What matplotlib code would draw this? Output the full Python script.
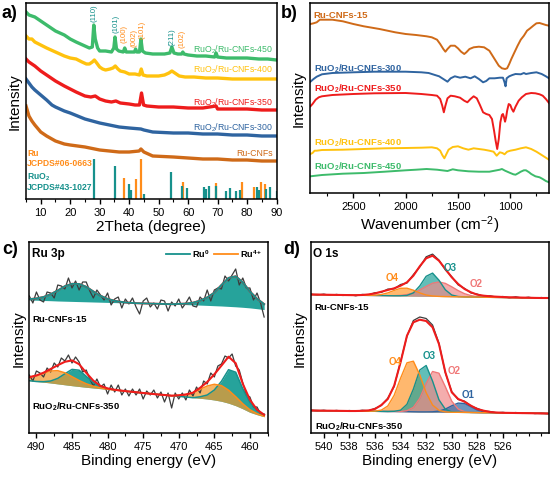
import numpy as np
import matplotlib
matplotlib.use("Agg")
import matplotlib.pyplot as plt
from matplotlib.lines import Line2D

plt.rcParams['font.family'] = ['Liberation Sans', 'DejaVu Sans']
plt.rcParams['mathtext.fontset'] = 'custom'
plt.rcParams['mathtext.rm'] = 'Liberation Sans'
plt.rcParams['mathtext.bf'] = 'Liberation Sans:bold'
plt.rcParams['mathtext.default'] = 'regular'

# ---------------- a) XRD ----------------
x450 = [5,6,8,10,12,15,18,20,22,25,26.5,27.5,28.0,28.5,29.3,30,32,34,34.8,35.2,35.7,36.5,38,38.5,39,40,41.8,42.2,42.6,43.5,
        44.0,44.5,45.5,48,50,52,53.8,54.5,55.2,56.5,57.8,58.2,58.6,60,63,66,69,69.5,70,73,76,80,84,87,90]
y450 = [187,184,182,178,174,168,164,160,157,153,151,152,174,160,151,148,148,147,151,162,150,148,147,151,147,147,147,150,147,147,
        160,148,146,145,145,145,146,152,146,145,145,147,145,144,143,143,142,146,142,141,141,141,140,140,139]
x400 = [5,6,7,8,10,12,15,18,20,22,24,25.5,26.5,27.5,28.2,29,30,31,32,33.5,34.5,35.3,36.2,37,38.5,40,42,43.5,44.1,44.7,
        46,48,50,52,53.5,54.5,55.5,57,59,62,66,70,75,80,85,90]
y400 = [163,160,160,157,154,151,147,143,141,140,137,135,135,137,139,136,132,130,129,130,131,133,130,128,127,125,125,124,130,124,
        123,123,123,124,126,128,126,123,122,122,121,121,120,120,120,120]
x350 = [5,6,7,8,10,12,15,18,20,22,25,27,28.5,30,32,34,35.5,37,40,42,43.5,44.2,44.9,46,50,55,60,65,69.5,70,75,80,85,90]
y350 = [140,137,135,133,128,124,118,113,110,107,103,102,103,100,98,97,98,96,95,94,94,106,94,93,92,92,91,91,93,90,90,90,89,89]
x300 = [5,6,7,8,10,12,13.8,15,18,20,25,30,36.6,40,44,45,48,55,60,65,70,75,80,85,90]
y300 = [120,116,112,109,104,99,94,92,88,86,80,76,72,71,70,69,67,66,66,65,65,64,64,63,63]
xru = [5,5.5,6,7,8,10,12,13.8,15,18,20,25,30,36.6,40,43.4,44,45,48,55,60,65,70,75,80,85,90]
yru = [93,88,83,78,74,67,63,60,58,55,54,52,49,47,47,48,50,47,43,42,41,40,40,39,39,38,38]

ruo2_pos = [28.0,35.1,40.0,40.6,45.0,54.3,57.9,59.5,65.5,66.2,67.0,69.6,73.0,74.1,76.1,77.6,83.3,84.0,86.5,87.8,90.0]
ruo2_h = [40,33,15,9,5,27,13,11,12,10,13,13,8,11,8,9,12,9,10,12,8]
ru_pos = [38.4,42.2,44.0,58.3,69.4,78.4,82.3,84.8,86.0]
ru_h = [21,20,40,17,16,17,12,17,15]

hkl_x = [28.1,35.4,38.4,41.7,44.4,54.4,58.0]
hkl_y = [178,167,157,153,161,154,152]
hkl_txt = ['(110)','(101)','(100)','(002)','(101)','(211)','(102)']
hkl_is_ru = [False,False,True,True,True,False,True]

# ---------------- b) FTIR ----------------
bx_15 = [2910,2880,2850,2820,2780,2700,2600,2500,2400,2250,2100,2000,1900,1800,1750,1700,1670,1640,1620,1600,1570,1530,1500,
         1470,1440,1420,1390,1350,1300,1250,1200,1170,1140,1110,1080,1050,1030,1010,990,960,930,900,870,840,810,780,750,720,690,660,630]
by_15 = [169,169.7,170.7,173.3,173.3,173.3,171.7,169,166.7,164,160.7,159,158,156.7,155.7,153.3,149,144,141.3,144,147.3,147.3,144.7,
         141.3,139,140.7,144,145.7,146.3,145.7,142.3,137.3,132.3,127.3,124.7,124,124.7,129,134,140.7,147.3,153.3,157.3,162.3,164.7,167.3,169.7,170,169,168,167.3]
bx_300 = [2910,2880,2850,2800,2700,2500,2300,2000,1850,1780,1720,1680,1640,1600,1570,1530,1480,1430,1380,1340,1300,1260,1230,1200,
          1150,1100,1070,1055,1045,1035,1010,980,950,900,870,850,800,750,700,660,630]
by_300 = [111.3,114,116.3,118.7,120,120.7,121.3,121.3,120.7,120,118,116.7,114,111.3,114.7,116.7,115.3,116.3,114.7,116.7,114,110.7,112,114.7,
          114.7,115.3,115.3,110.7,106.7,114.7,116.7,118,119,118.7,120,119,120,120.7,119,116.7,114.7]
bx_350 = [2910,2890,2860,2830,2800,2700,2500,2300,2000,1850,1750,1700,1670,1650,1635,1620,1600,1570,1530,1480,1440,1410,1380,1350,1320,
          1290,1260,1230,1200,1175,1155,1140,1125,1110,1095,1080,1070,1060,1050,1040,1030,1015,1000,985,970,950,920,890,850,800,760,720,690,660,630]
by_350 = [86.7,89,93.3,95.7,96.7,98,99,99.7,100,99,98,97.3,94,87.3,80.7,87.3,94.7,97.3,96.7,95.3,92.3,90.7,94,96.7,94.7,
          88,80.7,79,78,74,62.3,52.3,44,54,70.7,78,79,75.7,71.3,75.7,82.3,89,88,84,81.3,86.3,92.3,95.7,99,100,99.7,98.7,97.3,94,90]
bx_400 = [2910,2890,2870,2850,2800,2600,2400,2200,2000,1850,1750,1700,1670,1650,1630,1610,1590,1550,1500,1450,1400,1350,1300,1250,1200,
          1160,1130,1100,1075,1055,1030,1000,950,900,850,800,750,700,660,630]
by_400 = [39,40,42.3,42.3,43,43.3,44,44.7,45,45.3,45.7,44.7,42.3,38,34.7,39,43.3,46,46.7,44.7,43.3,44.7,44,43.3,42.3,
          41.3,37.3,40.7,40,38.7,41.3,42.3,43.3,44.7,45.7,44,41.3,38,35.3,33.3]
bx_450 = [2910,2800,2600,2400,2200,2000,1900,1800,1700,1600,1550,1500,1400,1300,1200,1150,1100,1080,1050,1000,970,950,920,900,870,850,820,800,760,720,690,660,630]
by_450 = [16.7,18,19.3,20,21.3,22.7,23.3,24,23.3,22,23.7,22.7,21.7,21.3,21.3,22.3,23.3,24,22.3,20,18.7,18.3,20,21.3,22.7,22.7,20.7,19,16.7,15.7,14,12,10.7]

# ---------------- c) Ru 3p XPS ----------------
c_x = np.arange(491, 457.5, -1.0)
c_xraw = np.arange(491, 457.75, -0.5)
c_bg_top = [133.0,132.8,132.5,132.3,132.0,131.8,131.6,131.4,131.2,131.0,130.8,130.6,130.4,130.2,130.0,129.8,129.6,129.4,129.2,129.0,
            128.8,128.6,128.4,128.1,127.9,127.6,127.3,127.0,126.6,126.2,125.7,125.1,124.3,123.4]
c_ru0_top = [0.8,1.8,3.5,6.5,10.5,15,17.6,17.6,15,10.5,6.5,3.5,1.8,0.8,0.3,0,0,0,0,0,0,
             0.5,1,2.2,4.5,8,13,21,28.5,30.5,25,16.5,10,5.5]
c_fit_top = [133.8,134.6,136.0,138.8,142.5,146.8,149.2,149.0,146.2,141.5,137.3,134.1,132.2,131.0,130.3,129.8,129.6,129.4,129.2,129.0,
             128.8,129.1,129.4,130.3,132.4,135.6,140.3,148.0,155.1,156.7,150.7,141.6,134.3,128.9]
c_raw_top = [137,130,141,133,131,141,140,135,148,147,144,155,145,152,143,151,151,142,135,143,138,133,140,128,134,136,125,134,129,135,
             126,119,132,135,126,130,124,133,132,122,131,127,134,125,130,136,127,126,136,132,143,132,143,145,144,157,152,158,164,148,
             155,145,145,133,140,130,116]
c_bg_bot = [52.3,51.5,50.8,50.0,49.1,48.2,47.3,46.5,45.7,45.0,44.3,43.6,43.0,42.3,41.5,40.8,40.0,39.3,38.6,38.0,
            37.3,36.7,36.0,35.3,34.7,34.0,33.0,31.7,29.8,27.3,24.2,20.7,18.3,16.3]
c_ru4_bot = [3.5,6,9,12,13.2,12,9,6,3.5,1.8,0.8,0.3,0,0,0,0,0,0,0,0,0,
             1,2.5,5,9,13,15.7,15.7,13,9,5,2.5,1,0.4]
c_ru0_bot = [0,0,0.5,2,5.5,11,16.3,16.3,11,5.5,2,0.7,0.2,0,0,0,0,0,0,0,0,0,0,0,
             1.5,4,10,20,33.5,33.5,20,10,4,1.5]
c_fit_bot = [55.8,57.5,60.3,64.0,67.8,71.2,72.6,68.8,60.2,52.3,47.1,44.6,43.2,42.3,41.5,40.8,40.0,39.3,38.6,38.0,
             37.3,37.7,38.5,40.3,45.2,51.0,58.7,67.4,76.3,69.8,49.2,33.2,23.3,18.2]
c_raw_bot = [58,52,62,60,56,65,61,70,66,75,72,78,70,76,71,61,63,54,47,54,46,49,39,48,41,48,38,44,37,44,
             38,44,34,42,38,43,35,41,31,40,25,40,34,40,33,43,37,46,40,52,49,60,56,67,69,77,75,79,67,63,
             50,38,36,26,26,19,19]

# ---------------- d) O 1s XPS ----------------
d_x = np.arange(541, 522.25, -0.5)
d_bg_top = [138.5,138.4,138.3,138.2,138.1,138.0,137.9,137.8,137.7,137.6,137.5,137.4,137.3,137.2,137.1,137.0,136.9,136.8,136.7,136.6,
            136.5,136.4,136.3,136.2,136.1,136.0,135.9,135.8,135.7,135.6,135.5,135.4,135.3,135.2,135.1,135.0,135.0,135.0]
d_o4_top = [0,0,0,0,0,0,0,0,0,0.1,0.3,1.1,2.8,5.4,7.6,7.8,5.9,3.3,1.3,0.4,0.1,0,0,0,0,0,0,0,0,0,0,0,0,0,0,0,0,0]
d_o3_top = [0,0,0,0,0,0,0,0,0,0,0,0,0,0,0.1,0.6,3.2,10.3,20,23.3,16.3,6.8,1.7,0.3,0,0,0,0,0,0,0,0,0,0,0,0,0,0]
d_o2_top = [0,0,0,0,0,0,0,0,0,0,0,0,0,0.1,0.5,1.4,3.2,6.2,9.9,13.2,14.5,13.2,9.9,6.2,3.2,1.4,0.5,0.1,0,0,0,0,0,0,0,0,0,0]
d_fit_top = [138.5,138.4,138.3,138.2,138.1,138.0,137.9,137.8,138.0,138.6,139.6,141.3,143.0,144.7,147.3,150.7,157.3,166.7,174.7,177.3,
             172.3,164.0,155.7,149.0,144.0,140.7,138.3,137.3,136.7,136.3,136.0,135.7,135.6,135.4,135.3,135.1,135.0,135.0]
d_raw_top = [138.8,137.9,138.9,137.6,138.6,137.5,138.4,137.2,138.6,138.1,140.3,140.6,143.9,144.1,148.5,150.0,158.4,166.0,176.2,178.9,
             172.9,163.1,156.3,148.1,144.6,140.0,138.9,136.6,137.2,135.8,136.5,135.1,136.2,134.9,135.8,134.6,135.5,134.7]
d_bg_bot = [22.5,22.4,22.3,22.3,22.2,22.1,22.0,21.9,21.9,21.8,21.7,21.6,21.5,21.5,21.4,21.3,21.2,21.1,21.1,21.0,
            20.9,20.8,20.7,20.7,20.6,20.5,20.4,20.3,20.3,20.2,20.1,20.0,19.9,19.9,19.8,19.7,19.6,19.5]
d_o4_bot = [0,0,0,0,0,0,0,0,0,0,0.2,1.3,5.5,16.2,33.4,48.9,50.6,37,19.2,7.0,1.8,0.3,0,0,0,0,0,0,0,0,0,0,0,0,0,0,0,0]
d_o3_bot = [0,0,0,0,0,0,0,0,0,0,0,0,0,0.2,1.4,7.4,22.7,41.9,46.4,30.9,12.3,3.0,0.4,0,0,0,0,0,0,0,0,0,0,0,0,0,0,0]
d_o2_bot = [0,0,0,0,0,0,0,0,0,0,0,0,0,0,0.1,1.0,4.4,13.5,28.5,40.5,38.9,25.4,11.1,3.3,0.7,0,0,0,0,0,0,0,0,0,0,0,0,0]
d_o1_bot = [0,0,0,0,0,0,0,0,0,0,0,0,0,0,0,0,0,0,0,0.2,1.0,3.1,6.5,9.2,8.9,5.8,2.5,0.8,0.2,0,0,0,0,0,0,0,0,0]
d_fit_bot = [22.5,22.4,22.3,22.3,22.2,22.1,22.0,22.0,22.2,22.6,24.0,28.0,34.0,47.3,70.7,97.3,110.7,113.3,112.0,105.7,
             89.0,60.7,40.7,34.0,31.3,27.3,24.0,22.3,21.0,20.5,20.2,20.1,20.0,19.9,19.8,19.7,19.6,19.5]
d_raw_bot = [22.9,22.0,22.8,21.9,22.6,21.8,22.5,21.7,22.8,22.2,24.6,27.5,34.8,46.5,71.5,96.8,112.5,116.0,114.5,108.0,
             89.8,60.2,41.3,33.5,31.8,27.0,24.5,22.0,21.5,20.2,20.7,19.8,20.5,19.6,20.3,19.4,20.0,19.2]

# colours
c_green = '#3dbb6b'
c_yellow = '#ffc20e'
c_red = '#ee1c1c'
c_blue = '#2f64a0'
c_brown = '#cf6a18'
c_teal = '#17918c'
c_orange = '#ff8c1a'
c_pink = '#f07878'
c_grey = '#3c3c3c'

W, H = 552, 481
fig = plt.figure(figsize=(W/100, H/100), dpi=100)

def px_axes(l, t, r, b):
    return fig.add_axes([l/W, 1 - b/H, (r-l)/W, (b-t)/H])

def style(ax):
    for s in ax.spines.values():
        s.set_linewidth(1.1)
    ax.tick_params(axis='x', which='both', direction='out', top=False, labelsize=8, pad=2)
    ax.tick_params(axis='x', which='major', length=3.5, width=1)
    ax.tick_params(axis='x', which='minor', length=2, width=0.8)
    ax.set_yticks([])

# ---- a ----
axa = px_axes(26, 4, 276.5, 200)
for xs, ys, col in [(xru, yru, c_brown), (x300, y300, c_blue), (x350, y350, c_red), (x400, y400, c_yellow), (x450, y450, c_green)]:
    axa.plot(xs, ys, color=col, lw=2.4, solid_joinstyle='round')
axa.vlines(ru_pos, 0, ru_h, color=c_orange, lw=1.6)
axa.vlines(ruo2_pos, 0, ruo2_h, color=c_teal, lw=1.6)
for hx, hy, t, isru in zip(hkl_x, hkl_y, hkl_txt, hkl_is_ru):
    axa.text(hx, hy, t, rotation=90, ha='center', va='bottom', fontsize=5.7, color=c_orange if isru else c_teal)
for t, yy, col in [('RuO$_2$/Ru-CNFs-450', 150, c_green), ('RuO$_2$/Ru-CNFs-400', 130, c_yellow),
                   ('RuO$_2$/Ru-CNFs-350', 97, c_red), ('RuO$_2$/Ru-CNFs-300', 72, c_blue), ('Ru-CNFs', 46, c_brown)]:
    axa.text(88.7, yy, t, ha='right', va='center', fontsize=6.3, color=col)
for t, yy, col in [('Ru', 47, c_orange), ('JCPDS#06-0663', 36, c_orange), ('RuO$_2$', 23, c_teal), ('JCPDS#43-1027', 12, c_teal)]:
    axa.text(5.4, yy, t, ha='left', va='center', fontsize=6.2, color=col, fontweight='bold')
axa.set_xlim(5, 90)
axa.set_ylim(0, 196)
axa.set_xticks(np.arange(10, 91, 10))
axa.set_xticks(np.arange(5, 91, 5), minor=True)
style(axa)
axa.set_xlabel('2Theta (degree)', fontsize=11, labelpad=2)
axa.set_ylabel('Intensity', fontsize=11, labelpad=3)

# ---- b ----
axb = px_axes(310, 4, 549, 194)
for xs, ys, col in [(bx_15, by_15, c_brown), (bx_300, by_300, c_blue), (bx_350, by_350, c_red),
                    (bx_400, by_400, c_yellow), (bx_450, by_450, c_green)]:
    axb.plot(xs, ys, color=col, lw=1.4)
for t, yy, col in [('Ru-CNFs-15', 179, c_brown), (r'RuO$_\mathbf{2}$/Ru-CNFs-300', 125.7, c_blue),
                   (r'RuO$_\mathbf{2}$/Ru-CNFs-350', 105.7, c_red), (r'RuO$_\mathbf{2}$/Ru-CNFs-400', 51.3, c_yellow),
                   (r'RuO$_\mathbf{2}$/Ru-CNFs-450', 27.3, c_green)]:
    axb.text(2880, yy, t, ha='left', va='center', fontsize=6.8, color=col, fontweight='bold')
axb.set_xlim(2914, 630)
axb.set_ylim(0, 190)
axb.set_xticks([2500, 2000, 1500, 1000])
axb.set_xticks([2750, 2250, 1750, 1250, 750], minor=True)
style(axb)
axb.set_xlabel('Wavenumber (cm$^{-2}$)', fontsize=11, labelpad=2)
axb.set_ylabel('Intensity', fontsize=11, labelpad=3)

# ---- c ----
axc = px_axes(29.3, 243.3, 267.7, 434)
bt = np.array(c_bg_top)
bb = np.array(c_bg_bot)
axc.fill_between(c_x, bt, bt + np.array(c_ru0_top), color='#26a39b', lw=0)
axc.fill_between(c_x, bb, bb + np.array(c_ru0_bot), color='#26a39b', lw=0)
axc.fill_between(c_x, bb, bb + np.array(c_ru4_bot), color='#f29a2e', alpha=0.72, lw=0)
axc.plot(c_xraw, c_raw_top, color=c_grey, lw=0.9)
axc.plot(c_xraw, c_raw_bot, color=c_grey, lw=0.9)
axc.plot(c_x, c_fit_top, color=c_red, lw=1.4)
axc.plot(c_x, bt + np.array(c_ru0_top), color=c_teal, lw=1.3)
axc.plot(c_x, bb + np.array(c_ru0_bot), color=c_teal, lw=1.1)
axc.plot(c_x, bb + np.array(c_ru4_bot), color=c_orange, lw=1.1)
axc.plot(c_x, c_fit_bot, color=c_red, lw=1.5)
axc.text(490.6, 180, 'Ru 3p', ha='left', va='center', fontsize=8.5, fontweight='bold')
axc.text(490.6, 114, 'Ru-CNFs-15', ha='left', va='center', fontsize=6.8, fontweight='bold')
axc.text(490.6, 27, r'RuO$_\mathbf{2}$/Ru-CNFs-350', ha='left', va='center', fontsize=6.8, fontweight='bold')
hnd = [Line2D([], [], color=c_teal, lw=1.3), Line2D([], [], color=c_orange, lw=1.3)]
axc.legend(hnd, ['Ru$^\mathbf{0}$', 'Ru$^\mathbf{4+}$'], loc='upper right', ncol=2, frameon=False,
           prop={'size': 6.5, 'weight': 'bold'}, handlelength=2.6, columnspacing=0.5, handletextpad=0.3,
           borderaxespad=0.15, bbox_to_anchor=(1.0, 1.0))
axc.set_xlim(491, 458.2)
axc.set_ylim(0, 190.7)
axc.set_xticks(np.arange(490, 457, -5))
axc.set_xticks(np.arange(487.5, 457, -5), minor=True)
style(axc)
axc.set_xlabel('Binding energy (eV)', fontsize=11, labelpad=2)
axc.set_ylabel('Intensity', fontsize=11, labelpad=3)

# ---- d ----
axd = px_axes(311, 243.3, 549, 434)
bt = np.array(d_bg_top)
bb = np.array(d_bg_bot)
comps = [(d_o4_top, d_o4_bot, '#ff9a30', c_orange), (d_o3_top, d_o3_bot, '#1fa39b', c_teal),
         (d_o2_top, d_o2_bot, '#f08a8a', c_pink)]
for ct, cb, fc, lc in comps:
    axd.fill_between(d_x, bt, bt + np.array(ct), color=fc, alpha=0.7, lw=0)
    axd.fill_between(d_x, bb, bb + np.array(cb), color=fc, alpha=0.7, lw=0)
axd.fill_between(d_x, bb, bb + np.array(d_o1_bot), color='#3a70a8', alpha=0.75, lw=0)
axd.plot(d_x, d_raw_top, color=c_grey, lw=0.9)
axd.plot(d_x, d_raw_bot, color=c_grey, lw=0.9)
axd.plot(d_x, bb + np.array(d_o1_bot), color=c_blue, lw=1.0)
for ct, cb, fc, lc in comps[::-1]:
    axd.plot(d_x, bt + np.array(ct), color=lc, lw=1.0)
    axd.plot(d_x, bb + np.array(cb), color=lc, lw=1.0)
axd.plot(d_x, d_fit_top, color=c_red, lw=1.5)
axd.plot(d_x, d_fit_bot, color=c_red, lw=1.5)
axd.text(540.85, 180, 'O 1s', ha='left', va='center', fontsize=8.5, fontweight='bold')
axd.text(540.7, 126.7, 'Ru-CNFs-15', ha='left', va='center', fontsize=6.8, fontweight='bold')
axd.text(540.7, 7.3, r'RuO$_\mathbf{2}$/Ru-CNFs-350', ha='left', va='center', fontsize=6.8, fontweight='bold')
for t, xx, yy, col in [('O4', 534.65, 155.7, c_orange), ('O3', 530.1, 165.7, c_teal), ('O2', 528.1, 149.7, c_pink),
                       ('O4', 534.4, 72.3, c_orange), ('O3', 531.8, 78, c_teal), ('O2', 529.8, 63, c_pink),
                       ('O1', 528.7, 39, c_blue)]:
    axd.text(xx, yy, t, ha='center', va='center', fontsize=7, fontweight='bold', color=col)
axd.set_xlim(541, 522.4)
axd.set_ylim(0, 190.7)
axd.set_xticks(np.arange(540, 525, -2))
axd.set_xticks(np.arange(539, 522, -1), minor=True)
style(axd)
axd.set_xlabel('Binding energy (eV)', fontsize=11, labelpad=2)
axd.set_ylabel('Intensity', fontsize=11, labelpad=3)

# panel letters
for t, xp, yp in [('a)', 2, 14), ('b)', 281, 14), ('c)', 2, 249), ('d)', 283, 249)]:
    fig.text(xp/W, 1 - yp/H, t, fontsize=13, fontweight='bold', ha='left', va='center')

fig.savefig('out.png', dpi=100)
